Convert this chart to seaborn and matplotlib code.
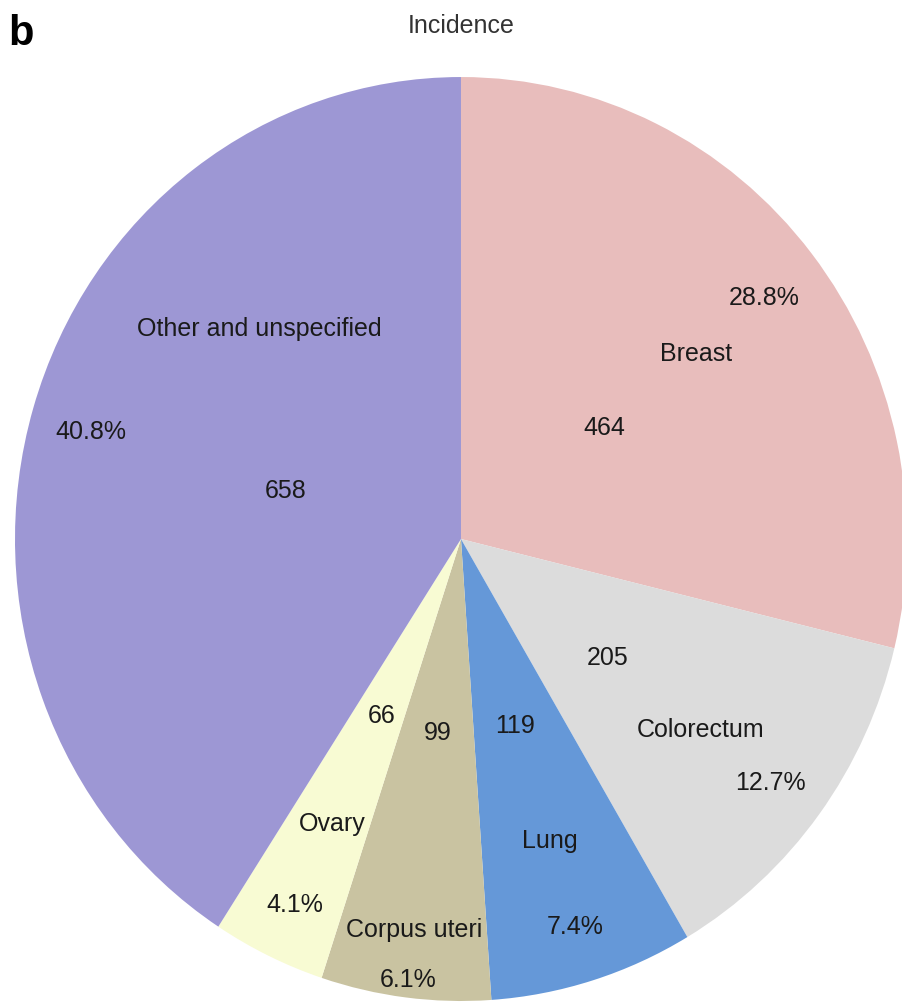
import matplotlib
matplotlib.use("Agg")
import matplotlib.pyplot as plt
import matplotlib.transforms as mtrans
import seaborn as sns
import numpy as np

# ---- data ----
sites = ["Breast", "Colorectum", "Lung", "Corpus uteri", "Ovary", "Other and unspecified"]
cases = [464, 205, 119, 99, 66, 658]
percent_labels = ["28.8%", "12.7%", "7.4%", "6.1%", "4.1%", "40.8%"]
title = "Incidence"
panel = "b"

# ---- style ----
colors = ["#E8BDBC", "#DCDCDC", "#6598D8", "#C9C3A1", "#F8FBD3", "#9D97D4"]

sns.set_theme(style="white")
plt.rcParams["font.family"] = ["Liberation Sans", "DejaVu Sans"]

fig = plt.figure(figsize=(9.03, 10.03), dpi=100)
ax = fig.add_axes([0.0166, 0.001, 0.9878, 0.9212])

wedges, _ = ax.pie(cases, colors=colors, startangle=90, counterclock=False,
                   radius=1, center=(0, 0),
                   wedgeprops=dict(linewidth=0, antialiased=True))
ax.set_aspect("auto")
ax.set_xlim(-1, 1)
ax.set_ylim(-1, 1)
ax.axis("off")

# label radii (fractions of radius); a few labels nudged to avoid overlap
r_pct, r_name, r_count = 0.865, 0.67, 0.41
name_override = {3: (0.84, None), 5: (0.65, 134.0)}
pct_override = {3: 0.95}

fs = 18
txtcol = "#1a1a1a"
tr = mtrans.offset_copy(ax.transData, fig=fig, x=0, y=-5, units="dots")
for i, w in enumerate(wedges):
    mid = 0.5 * (w.theta1 + w.theta2)
    a = np.deg2rad(mid)
    rp = pct_override.get(i, r_pct)
    ax.text(rp * np.cos(a), rp * np.sin(a), percent_labels[i], ha="center", va="center",
            fontsize=fs, color=txtcol, transform=tr)
    rn, ang = name_override.get(i, (r_name, None))
    an = np.deg2rad(ang) if ang is not None else a
    ax.text(rn * np.cos(an), rn * np.sin(an), sites[i], ha="center", va="center",
            fontsize=fs, color=txtcol, transform=tr)
    ax.text(r_count * np.cos(a), r_count * np.sin(a), str(cases[i]), ha="center", va="center",
            fontsize=fs, color=txtcol, transform=tr)

fig.text(461 / 903, 1 - 26 / 1003, title, ha="center", va="center", fontsize=fs, color="#333333")
fig.text(8 / 903, 1 - 34 / 1003, panel, ha="left", va="center", fontsize=30, fontweight="bold", color="black")

fig.savefig("out.png", dpi=100)
